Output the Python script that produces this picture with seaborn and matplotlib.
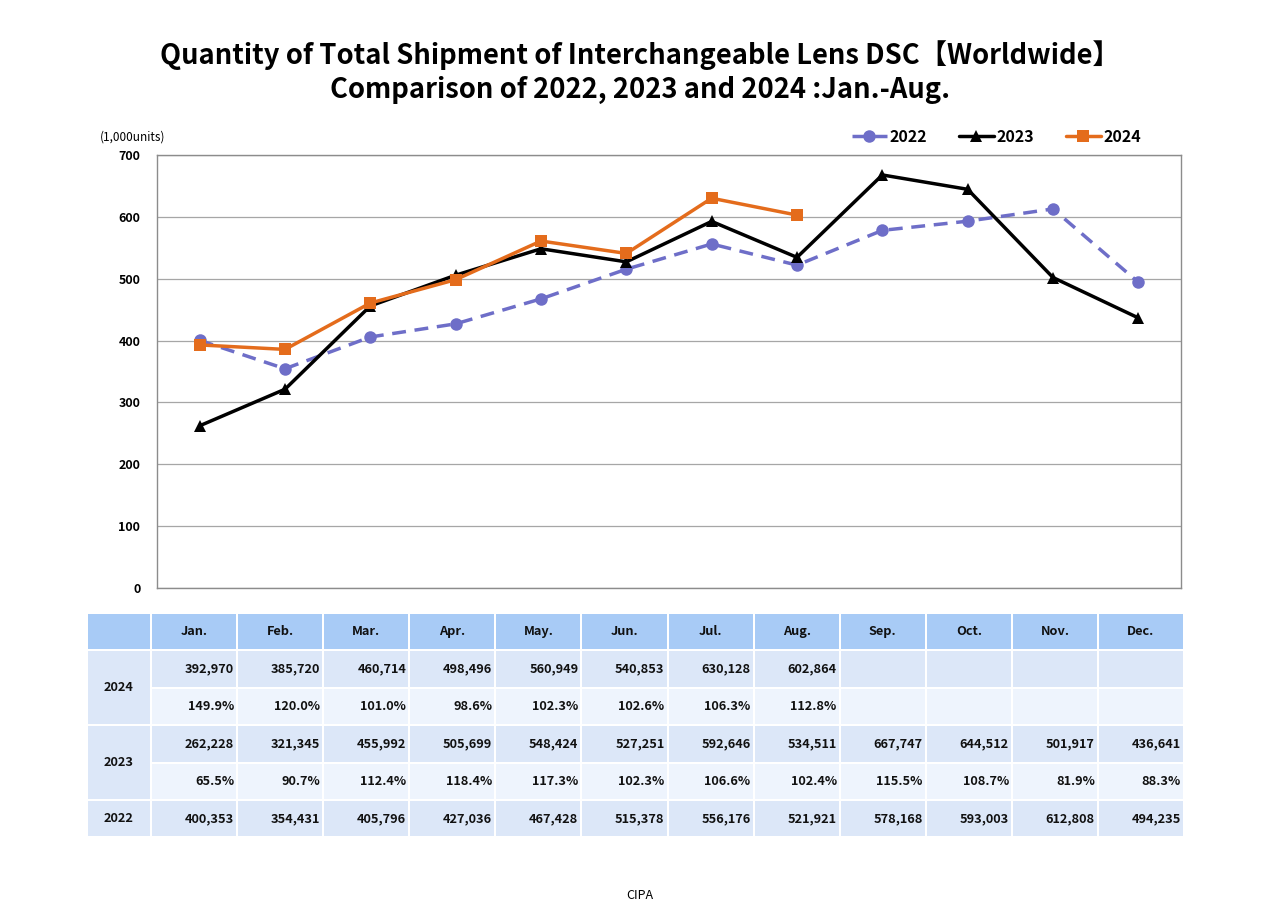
import matplotlib
matplotlib.use('Agg')
import matplotlib.pyplot as plt
from matplotlib.patches import Rectangle
import seaborn as sns
import pandas as pd
import numpy as np

months = ['Jan.', 'Feb.', 'Mar.', 'Apr.', 'May.', 'Jun.', 'Jul.', 'Aug.',
          'Sep.', 'Oct.', 'Nov.', 'Dec.']
ship_2022 = [400353, 354431, 405796, 427036, 467428, 515378, 556176, 521921,
             578168, 593003, 612808, 494235]
ship_2023 = [262228, 321345, 455992, 505699, 548424, 527251, 592646, 534511,
             667747, 644512, 501917, 436641]
ship_2024 = [392970, 385720, 460714, 498496, 560949, 540853, 630128, 602864]
pct_2023 = [65.5, 90.7, 112.4, 118.4, 117.3, 102.3, 106.6, 102.4, 115.5,
            108.7, 81.9, 88.3]
pct_2024 = [149.9, 120.0, 101.0, 98.6, 102.3, 102.6, 106.3, 112.8]

c2022 = '#6E6EC8'
c2023 = '#000000'
c2024 = '#E46C1C'

sns.set_theme(style='white')
plt.rcParams['font.family'] = ['Noto Sans CJK JP', 'DejaVu Sans']
plt.rcParams['text.color'] = 'black'
plt.rcParams['ytick.color'] = 'black'

fig = plt.figure(figsize=(12.8, 9.05), dpi=100)
W, H = 1280, 905

def box(x0, y0, x1, y1):
    # pixel box (top-left origin) -> figure fraction
    return [x0 / W, 1 - y1 / H, (x1 - x0) / W, (y1 - y0) / H]

# ---- line chart ----
ax = fig.add_axes(box(157, 155, 1181, 588))
df = pd.DataFrame({'month': list(range(12)) * 2 + list(range(8)),
                   'value': np.array(ship_2022 + ship_2023 + ship_2024) / 1000,
                   'year': ['2022'] * 12 + ['2023'] * 12 + ['2024'] * 8})

styles = {'2022': dict(color=c2022, marker='o', ls=(0, (4, 2.5)), ms=9),
          '2023': dict(color=c2023, marker='^', ls='-', ms=8.5),
          '2024': dict(color=c2024, marker='s', ls='-', ms=8)}
for yr in ['2022', '2023', '2024']:
    st = styles[yr]
    sns.lineplot(data=df[df['year'] == yr], x='month', y='value', ax=ax,
                 color=st['color'], marker=st['marker'], linestyle=st['ls'],
                 markersize=st['ms'], markeredgewidth=0, linewidth=2.5,
                 label=yr)

ax.set_xlim(-0.5, 11.5)
ax.set_ylim(0, 700)
ax.set_yticks(range(0, 701, 100))
ax.set_xticks([])
ax.set_xlabel('')
ax.set_ylabel('')
ax.yaxis.grid(True, color='#A6A6A6', linewidth=0.9)
for s in ax.spines.values():
    s.set_color('#8C8C8C')
    s.set_linewidth(1.0)
ax.tick_params(axis='y', length=0, pad=12, labelsize=9)
for t in ax.get_yticklabels():
    t.set_fontweight('bold')

leg = ax.legend(loc='center right', bbox_to_anchor=(1141 / W, 1 - 137 / H),
                bbox_transform=fig.transFigure, ncol=3, frameon=False,
                handlelength=2.2, columnspacing=2.0, handletextpad=0.15,
                borderaxespad=0, borderpad=0,
                prop={'size': 11.5, 'weight': 'bold'})

fig.text(100 / W, 1 - 137 / H, '(1,000units)', fontsize=8.5, va='center',
         ha='left')

fig.text(0.5, 1 - 55 / H,
         'Quantity of Total Shipment of Interchangeable Lens DSC【Worldwide】',
         ha='center', va='center', fontsize=19.7, fontweight='bold')
fig.text(0.5, 1 - 90 / H, 'Comparison of 2022, 2023 and 2024 :Jan.-Aug.',
         ha='center', va='center', fontsize=19.7, fontweight='bold')

# ---- data table ----
tx = fig.add_axes(box(87, 613, 1184, 837))
tx.set_xlim(0, 1097)
tx.set_ylim(224, 0)
tx.axis('off')

head_col = '#A8CBF6'
val_col = '#DCE7F8'
pct_col = '#EEF4FD'
first_w = 64
col_w = (1097 - first_w) / 12
row_y = [0, 37, 75, 112, 150, 187, 224]
gap = 1.0

def cell(c, r0, r1, color):
    x0 = 0 if c < 0 else first_w + c * col_w
    x1 = first_w if c < 0 else first_w + (c + 1) * col_w
    tx.add_patch(Rectangle((x0 + gap, row_y[r0] + gap),
                           x1 - x0 - 2 * gap, row_y[r1] - row_y[r0] - 2 * gap,
                           facecolor=color, edgecolor='none'))
    return x0, x1, (row_y[r0] + row_y[r1]) / 2

tfont = dict(fontsize=9.2, fontweight='bold', va='center', color='#111111')

cell(-1, 0, 1, head_col)
for i, m in enumerate(months):
    x0, x1, yc = cell(i, 0, 1, head_col)
    tx.text((x0 + x1) / 2, yc, m, ha='center', **tfont)

rows = [('2024', ship_2024, pct_2024, 1),
        ('2023', ship_2023, pct_2023, 3)]
for name, vals, pcts, r in rows:
    x0, x1, yc = cell(-1, r, r + 2, val_col)
    tx.text((x0 + x1) / 2, yc, name, ha='center', **tfont)
    for i in range(12):
        x0, x1, yc = cell(i, r, r + 1, val_col)
        if i < len(vals):
            tx.text(x1 - 3, yc, f'{vals[i]:,}', ha='right', **tfont)
        x0, x1, yc = cell(i, r + 1, r + 2, pct_col)
        if i < len(pcts):
            tx.text(x1 - 3, yc, f'{pcts[i]:.1f}%', ha='right', **tfont)

x0, x1, yc = cell(-1, 5, 6, val_col)
tx.text((x0 + x1) / 2, yc, '2022', ha='center', **tfont)
for i in range(12):
    x0, x1, yc = cell(i, 5, 6, val_col)
    tx.text(x1 - 3, yc, f'{ship_2022[i]:,}', ha='right', **tfont)

fig.text(0.5, 1 - 895 / H, 'CIPA', ha='center', va='center', fontsize=9)

fig.savefig('out.png', dpi=100, facecolor='white')
